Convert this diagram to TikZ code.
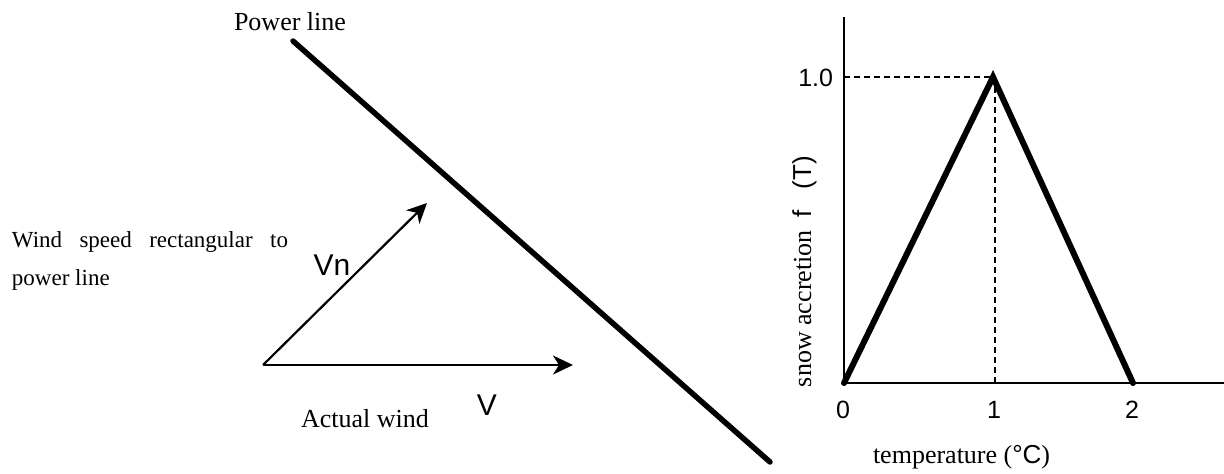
\documentclass[tikz,border=0pt]{standalone}
\usepackage{fontspec}
\setmainfont{Liberation Serif}
\setsansfont{Liberation Sans}
\usetikzlibrary{arrows.meta}

\begin{document}
\begin{tikzpicture}[
  x=1pt,y=-1pt,
  every node/.style={inner sep=0pt,outer sep=0pt},
  lbl/.style={font=\fontsize{26}{30}\selectfont},
  small/.style={font=\fontsize{23}{28}\selectfont},
  num/.style={font=\sffamily\fontsize{25}{30}\selectfont},
  vec/.style={font=\sffamily\fontsize{30}{34}\selectfont},
  wire/.style={line width=5.5pt,line cap=round},
  arr/.style={-{Stealth[length=20pt,width=19pt,inset=6pt]},line width=2.2pt},
  axis/.style={line width=1.8pt},
  curve/.style={line width=6pt,line cap=round,line join=miter},
  guide/.style={line width=1.3pt,dash pattern=on 6pt off 4pt}
]
  \useasboundingbox (0,0) rectangle (1224,474);

  \node[lbl,anchor=base] (plabel) at (290,30) {Power line};
  \coordinate (wireA) at (293,41);
  \coordinate (wireB) at (770,462);
  \draw[wire] (wireA) -- (wireB);

  \coordinate (o) at (263,365);
  \coordinate (vn) at (427,203);
  \coordinate (v) at (573,365);
  \draw[arr] (o) -- (vn);
  \draw[arr] (o) -- (v);
  \node[vec,anchor=base] (vnlabel) at (332,275) {Vn};
  \node[vec,anchor=base] (vlabel) at (487,415) {V};
  \node[lbl,anchor=base] (actual) at (365,427) {Actual wind};
  \node[small,anchor=base west] (normA) at (12,247)
    {\makebox[276pt][s]{Wind speed rectangular to}};
  \node[small,anchor=base west] (normB) at (12,285) {power line};

  \coordinate (ax0) at (844,383);
  \coordinate (axY) at (844,17);
  \coordinate (axX) at (1224,383);
  \coordinate (peak) at (993,77);
  \coordinate (end2) at (1133,383);
  \coordinate (one) at (995,383);
  \coordinate (oneY) at (844,77);
  \draw[axis] (axY) -- (ax0) -- (axX);
  \draw[guide] (oneY) -- (peak);
  \draw[guide] (peak -| one) -- (one);
  \draw[curve] (ax0) -- (peak) -- (end2);

  \node[num,anchor=base east] (ylab) at (833,86) {1.0};
  \node[num,anchor=base] (t0) at (843,418) {0};
  \node[num,anchor=base] (t1) at (994,418) {1};
  \node[num,anchor=base] (t2) at (1132,418) {2};
  \node[lbl,anchor=base west] (xname) at (873,463)
    {temperature ({\sffamily °C})};
  \node[lbl,anchor=base west,rotate=90] (yname) at (811,387)
    {snow accretion\hspace{0.5em}{\sffamily f\hspace{0.8em}(T)}};
\end{tikzpicture}
\end{document}
